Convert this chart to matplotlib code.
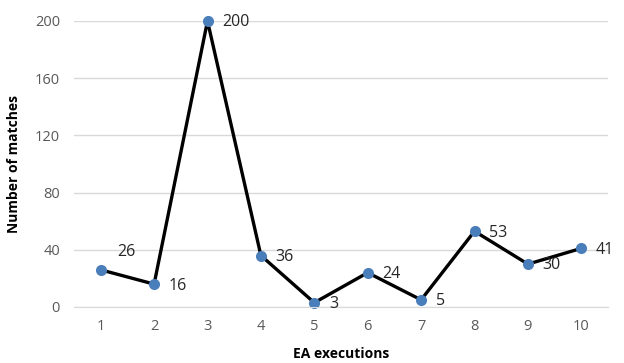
import matplotlib
matplotlib.use("Agg")
import matplotlib.pyplot as plt

executions = [1, 2, 3, 4, 5, 6, 7, 8, 9, 10]
matches = [26, 16, 200, 36, 3, 24, 5, 53, 30, 41]
yticks = [0, 40, 80, 120, 160, 200]

plt.rcParams['font.family'] = ['Open Sans', 'DejaVu Sans']

fig = plt.figure(figsize=(6.24, 3.63), dpi=100)
ax = fig.add_axes([74/624, 56/363, 534/624, 286/363])

ax.plot(executions, matches, color='black', linewidth=2.4, zorder=2,
        marker='o', markersize=8, markerfacecolor='#4a7ebb',
        markeredgecolor='#4a7ebb', markeredgewidth=0)

# label offsets in points (style only)
offsets = {0: (12, 13)}
for i, (x, y) in enumerate(zip(executions, matches)):
    dx, dy = offsets.get(i, (10.5, -1))
    ax.annotate(str(y), (x, y), xytext=(dx, dy), textcoords='offset points',
                ha='left', va='center', fontsize=11.5, color='#262626')

ax.set_xlim(0.5, 10.5)
ax.set_ylim(0, 200)
ax.set_yticks(yticks)
ax.set_xticks(executions)
ax.grid(axis='y', color='#d9d9d9', linewidth=1)
ax.set_axisbelow(True)
for s in ['top', 'right', 'left']:
    ax.spines[s].set_visible(False)
ax.spines['bottom'].set_color('#d9d9d9')
ax.tick_params(axis='both', length=0, colors='#595959', labelsize=10.5)
ax.tick_params(axis='x', pad=9)
ax.tick_params(axis='y', pad=10)
for line in ax.lines:
    line.set_clip_on(False)

ax.set_xlabel('EA executions', fontsize=10, fontweight='bold', color='black', labelpad=9)
ax.set_ylabel('Number of matches', fontsize=10, fontweight='bold', color='black', labelpad=10)

fig.savefig('out.png', dpi=100)
